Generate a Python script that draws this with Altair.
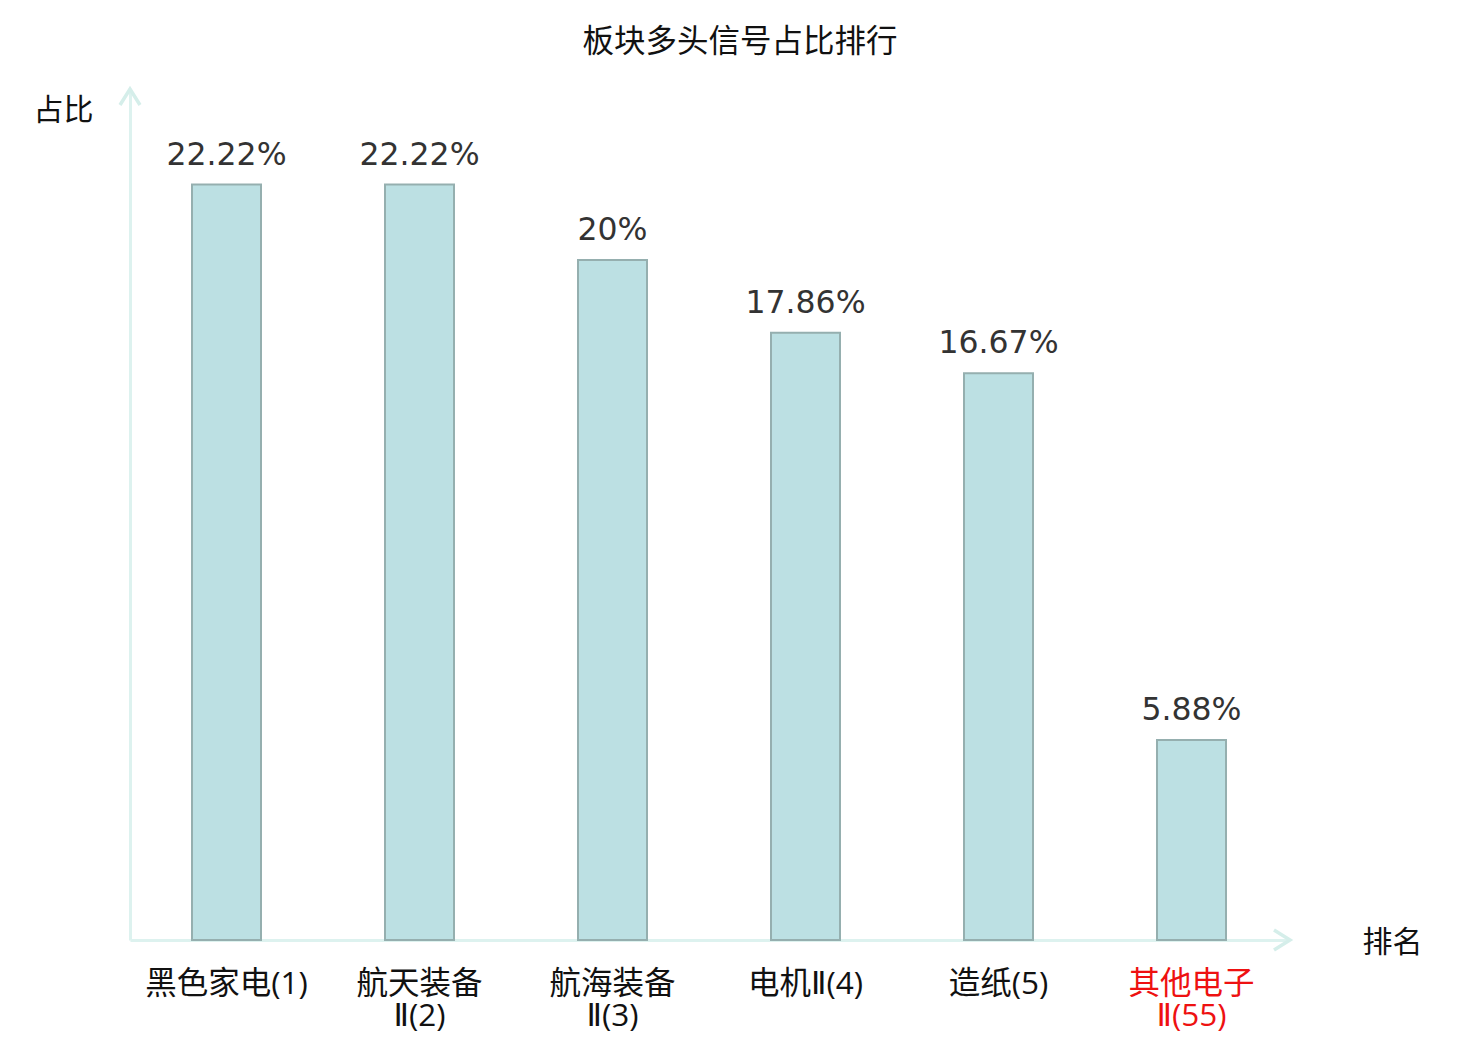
import altair as alt
import pandas as pd

categories = ["黑色家电(1)", "航天装备\nⅡ(2)", "航海装备\nⅡ(3)", "电机Ⅱ(4)", "造纸(5)", "其他电子\nⅡ(55)"]
values = [22.22, 22.22, 20, 17.86, 16.67, 5.88]
labels = ["22.22%", "22.22%", "20%", "17.86%", "16.67%", "5.88%"]

df = pd.DataFrame({"cat": categories, "v": values, "lab": labels})

W, H = 1158, 850
AXIS = "#DDF2EF"
FONT = "Noto Sans CJK SC"
LFONT = "Open Sans, DejaVu Sans, Noto Sans CJK SC"

x = alt.X("cat:N", sort=categories, scale=alt.Scale(paddingInner=0, paddingOuter=0),
          axis=alt.Axis(title="排名", labelExpr="split(datum.label, '\\n')",
                        labelAngle=0, labelFontSize=31.5, labelFont=LFONT, labelFontWeight="normal",
                        labelLineHeight=32,
                        labelColor=alt.expr("indexof(datum.value, '其他') >= 0 ? '#ee1111' : '#111111'"),
                        labelPadding=28, ticks=False, domainColor=AXIS, domainWidth=3,
                        titleFontSize=30, titleFont=FONT, titleFontWeight="normal", titleColor="#111111",
                        titleX=1262, titleY=2, titleAlign="center", titleBaseline="middle", titleAngle=0))
y = alt.Y("v:Q", scale=alt.Scale(domain=[0, 25], nice=False),
          axis=alt.Axis(title="占比", labels=False, ticks=False, grid=False, domainColor=AXIS, domainWidth=3,
                        titleFontSize=30, titleFont=FONT, titleFontWeight="normal", titleColor="#111111",
                        titleAngle=0, titleX=-67, titleY=20, titleAlign="center", titleBaseline="middle"))

base = alt.Chart(df)
bars = base.mark_bar(size=69, color="#BCE0E3", stroke="#95AFAF", strokeWidth=2).encode(x=x, y=y)
text = base.mark_text(dy=-13, baseline="bottom", fontSize=31.5, font="DejaVu Sans", color="#333333").encode(
    x=alt.X("cat:N", sort=categories), y="v:Q", text="lab:N")

arr = pd.DataFrame({"k": [0]})
up = alt.Chart(arr).mark_point(shape="M-1,1.6L0,0L1,1.6", size=400, filled=False, stroke="#D5EEEA",
                               strokeWidth=3.5, opacity=1).encode(x=alt.value(0), y=alt.value(-1))
right = alt.Chart(arr).mark_point(shape="M-1.6,-1L0,0L-1.6,1", size=400, filled=False, stroke="#D5EEEA",
                                  strokeWidth=3.5, opacity=1).encode(x=alt.value(1160), y=alt.value(H))

chart = alt.layer(bars, text, up, right).properties(
    width=W, height=H,
    title=alt.TitleParams("板块多头信号占比排行", fontSize=31.5, font=FONT, fontWeight="normal",
                          color="#111111", anchor="middle", dx=31, offset=24),
    autosize=alt.AutoSizeParams(type="none"),
    padding={"left": 122, "top": 82, "right": 170, "bottom": 98},
).configure_view(stroke=None).configure_axis(grid=False)

chart.save("out.html", embed_options={"renderer": "svg", "actions": False})
